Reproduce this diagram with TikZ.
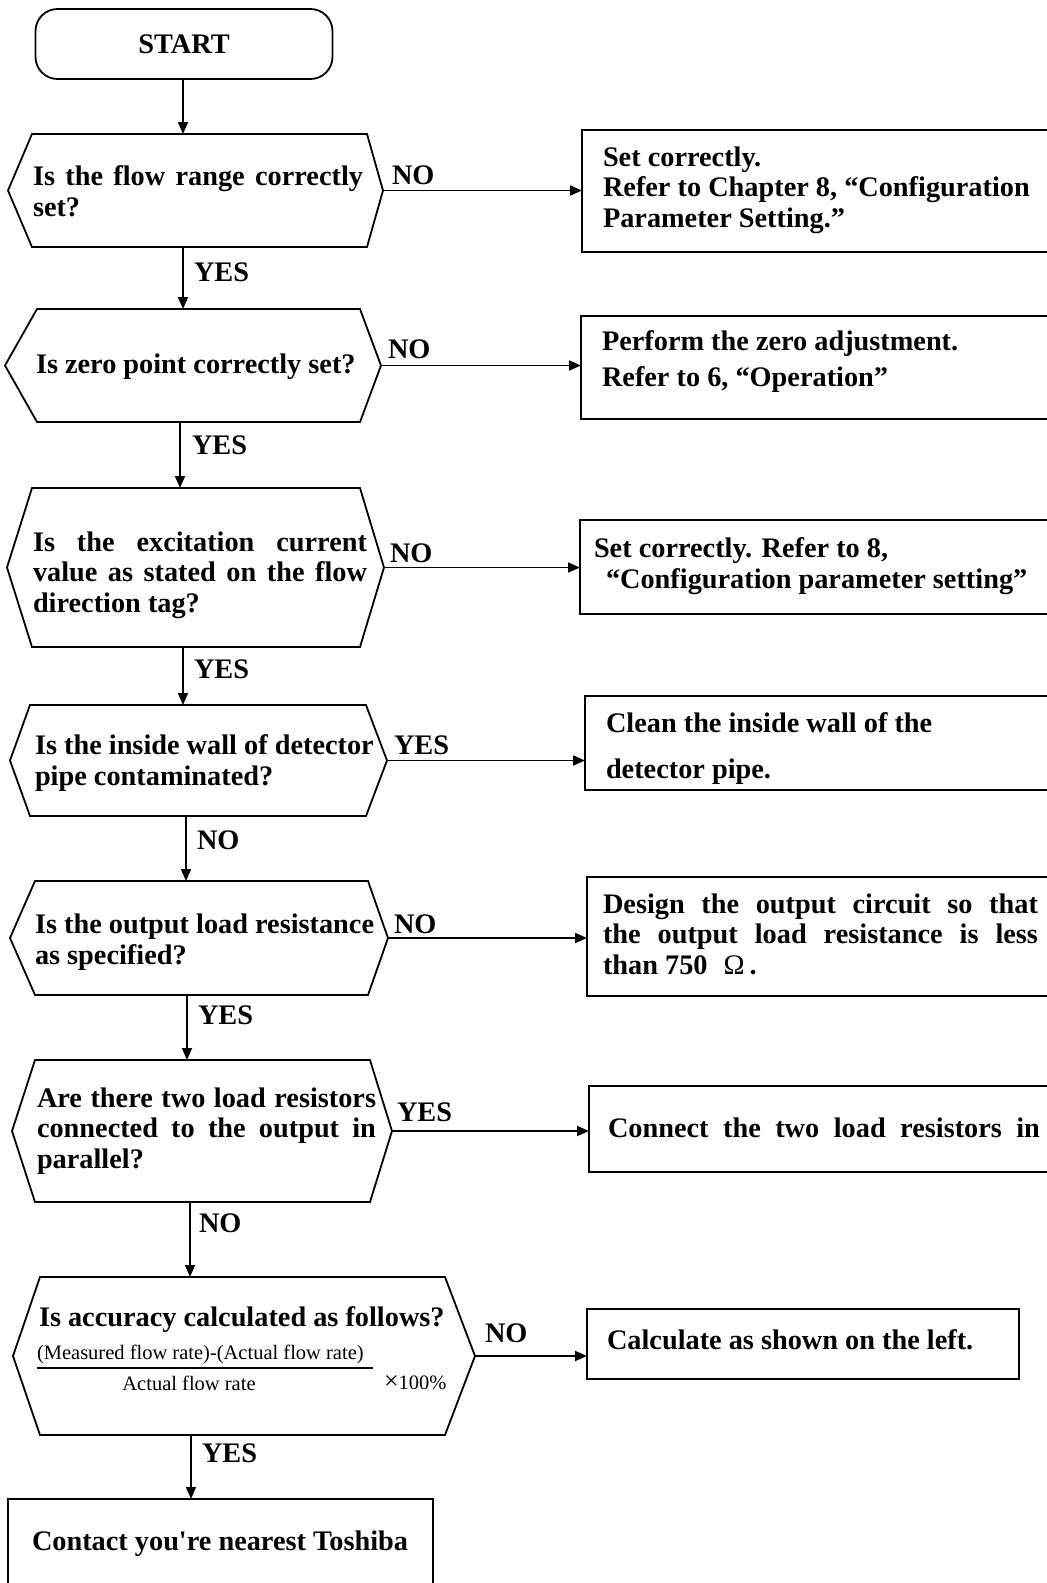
\documentclass[tikz,border=0pt]{standalone}
\usepackage{fontspec}
\setmainfont{Liberation Serif}
\usetikzlibrary{arrows.meta}
\newcommand\hexa[3]{%
  \coordinate (#1-r) at ([xshift=#3pt]#1.east);
  \coordinate (#1-l) at ([xshift=-#2pt]#1.west);
  \draw[ln] (#1.north west) -- (#1.north east) -- (#1-r) -- (#1.south east) -- (#1.south west) -- (#1-l) -- cycle;}
\newcommand\jl[2]{\makebox[#1pt][s]{#2}}
\begin{document}
\begin{tikzpicture}[x=1pt,y=-1pt,
  every node/.style={inner sep=0pt,outer sep=0pt,font=\bfseries\fontsize{28.3pt}{30.5pt}\selectfont},
  ln/.style={line width=1.8pt,line join=miter},
  arr/.style={line width=1.8pt,-{Triangle[length=12pt,width=10pt]}},
  shp/.style={draw=none},
  box/.style={draw,line width=2pt,anchor=north west},
  txt/.style={anchor=west,align=left},
  lab/.style={anchor=west},
  small/.style={font=\fontsize{20.5pt}{24pt}\selectfont}]
\useasboundingbox (0,0) rectangle (1047,1583);
\fill[white] (0,0) rectangle (1047,1583);
\clip (0,0) rectangle (1047,1583);

% START
\node[draw,line width=1.8pt,rounded corners=22pt,minimum width=297pt,minimum height=70pt] (start) at (184,44) {START};

% decisions
\node[shp,minimum width=335pt,minimum height=113pt] (d1) at (199.5,190.5) {};
\hexa{d1}{24}{16}
\node[txt] (q1) at (33,191) {\jl{330}{Is the flow range correctly}\\set?};

\node[shp,minimum width=323pt,minimum height=113pt] (d2) at (198.5,365.5) {};
\hexa{d2}{32}{21}
\node[txt] (q2) at (36,366.5) {Is zero point correctly set?};

\node[shp,minimum width=328pt,minimum height=159pt] (d3) at (196,567.5) {};
\hexa{d3}{25}{24}
\node[txt] (q3) at (33,575) {\jl{334}{Is the excitation current}\\\jl{334}{value as stated on the flow}\\direction tag?};

\node[shp,minimum width=336pt,minimum height=111pt] (d4) at (198,760.5) {};
\hexa{d4}{20}{21}
\node[txt] (q4) at (35,763) {Is the inside wall of detector\\pipe contaminated?};

\node[shp,minimum width=333pt,minimum height=114pt] (d5) at (201.5,938) {};
\hexa{d5}{25}{20}
\node[txt] (q5) at (35,942) {Is the output load resistance\\as specified?};

\node[shp,minimum width=335pt,minimum height=142pt] (d6) at (202.5,1131) {};
\hexa{d6}{23}{22}
\node[txt] (q6) at (37,1131) {\jl{339}{Are there two load resistors}\\\jl{339}{connected to the output in}\\parallel?};

\node[shp,minimum width=405pt,minimum height=158pt] (d7) at (242.5,1356) {};
\hexa{d7}{27}{30}
\node[txt] (q7) at (39,1320) {Is accuracy calculated as follows?};
\node[txt,small] (num) at (37,1354) {(Measured flow rate)-(Actual flow rate)};
\draw[line width=1.5pt] (num.south west |- 0,1368) -- (373,1368);
\node[small] (den) at (189,1383) {Actual flow rate};
\node[txt,small] (pct) at (384,1383) {{\fontsize{26pt}{26pt}\selectfont ×}100\%};

% right boxes
\node[box,minimum width=500pt,minimum height=122pt] (b1) at (582,130) {};
\node[txt] (r1) at (603,190) {Set correctly.\\Refer to Chapter 8, “Configuration\\Parameter Setting.”};

\node[box,minimum width=500pt,minimum height=103pt] (b2) at (581,316) {};
\node[txt] (r2) at (602,362) {Perform the zero adjustment.\\[5.5pt]Refer to 6, “Operation”};

\node[box,minimum width=500pt,minimum height=94pt] (b3) at (580,520) {};
\node[txt] (r3) at (594,566) {Set correctly. Refer to 8,\\\hspace*{12pt}“Configuration parameter setting”};

\node[box,minimum width=500pt,minimum height=94pt] (b4) at (585,696) {};
\node[txt] (r4) at (606,749) {Clean the inside wall of the\\[15.5pt]detector pipe.};

\node[box,minimum width=500pt,minimum height=119pt] (b5) at (587,877) {};
\node[txt] (r5) at (603,934) {\jl{435}{Design the output circuit so that}\\\jl{435}{the output load resistance is less}\\than 750\hspace{16pt}{\mdseries Ω}\hspace{5pt}.};

\node[box,minimum width=500pt,minimum height=86pt] (b6) at (589,1086) {};
\node[txt] (r6) at (608,1128) {\jl{432}{Connect the two load resistors in}};

\node[box,minimum width=432pt,minimum height=70pt] (b7) at (587,1309) {};
\node[txt] (r7) at (607,1340) {Calculate as shown on the left.};

\node[box,minimum width=425pt,minimum height=130pt] (b8) at (8,1499) {};
\node[txt] (r8) at (32,1544) {Contact you{\textquotesingle}re nearest Toshiba};

% vertical connectors
\draw[arr] (183,0 |- start.south) -- (183,0 |- d1.north);
\draw[arr] (183,0 |- d1.south) -- (183,0 |- d2.north);
\draw[arr] (180,0 |- d2.south) -- (180,0 |- d3.north);
\draw[arr] (183,0 |- d3.south) -- (183,0 |- d4.north);
\draw[arr] (186,0 |- d4.south) -- (186,0 |- d5.north);
\draw[arr] (187,0 |- d5.south) -- (187,0 |- d6.north);
\draw[arr] (190,0 |- d6.south) -- (190,0 |- d7.north);
\draw[arr] (191,0 |- d7.south) -- (191,0 |- b8.north);

% horizontal connectors
\draw[arr] (d1-r) -- (d1-r -| b1.west);
\draw[arr] (d2-r) -- (d2-r -| b2.west);
\draw[arr] (d3-r) -- (d3-r -| b3.west);
\draw[arr] (d4-r) -- (d4-r -| b4.west);
\draw[arr] (d5-r) -- (d5-r -| b5.west);
\draw[arr] (d6-r) -- (d6-r -| b6.west);
\draw[arr] (d7-r) -- (d7-r -| b7.west);

% labels
\node[lab] (l1r) at (392,175) {NO};
\node[lab] (l1d) at (194,272) {YES};
\node[lab] (l2r) at (388,349) {NO};
\node[lab] (l2d) at (192,445) {YES};
\node[lab] (l3r) at (390,553) {NO};
\node[lab] (l3d) at (194,669) {YES};
\node[lab] (l4r) at (394,745) {YES};
\node[lab] (l4d) at (197,840) {NO};
\node[lab] (l5r) at (394,924) {NO};
\node[lab] (l5d) at (198,1015) {YES};
\node[lab] (l6r) at (397,1112) {YES};
\node[lab] (l6d) at (199,1223) {NO};
\node[lab] (l7r) at (485,1333) {NO};
\node[lab] (l7d) at (202,1453) {YES};
\end{tikzpicture}
\end{document}
